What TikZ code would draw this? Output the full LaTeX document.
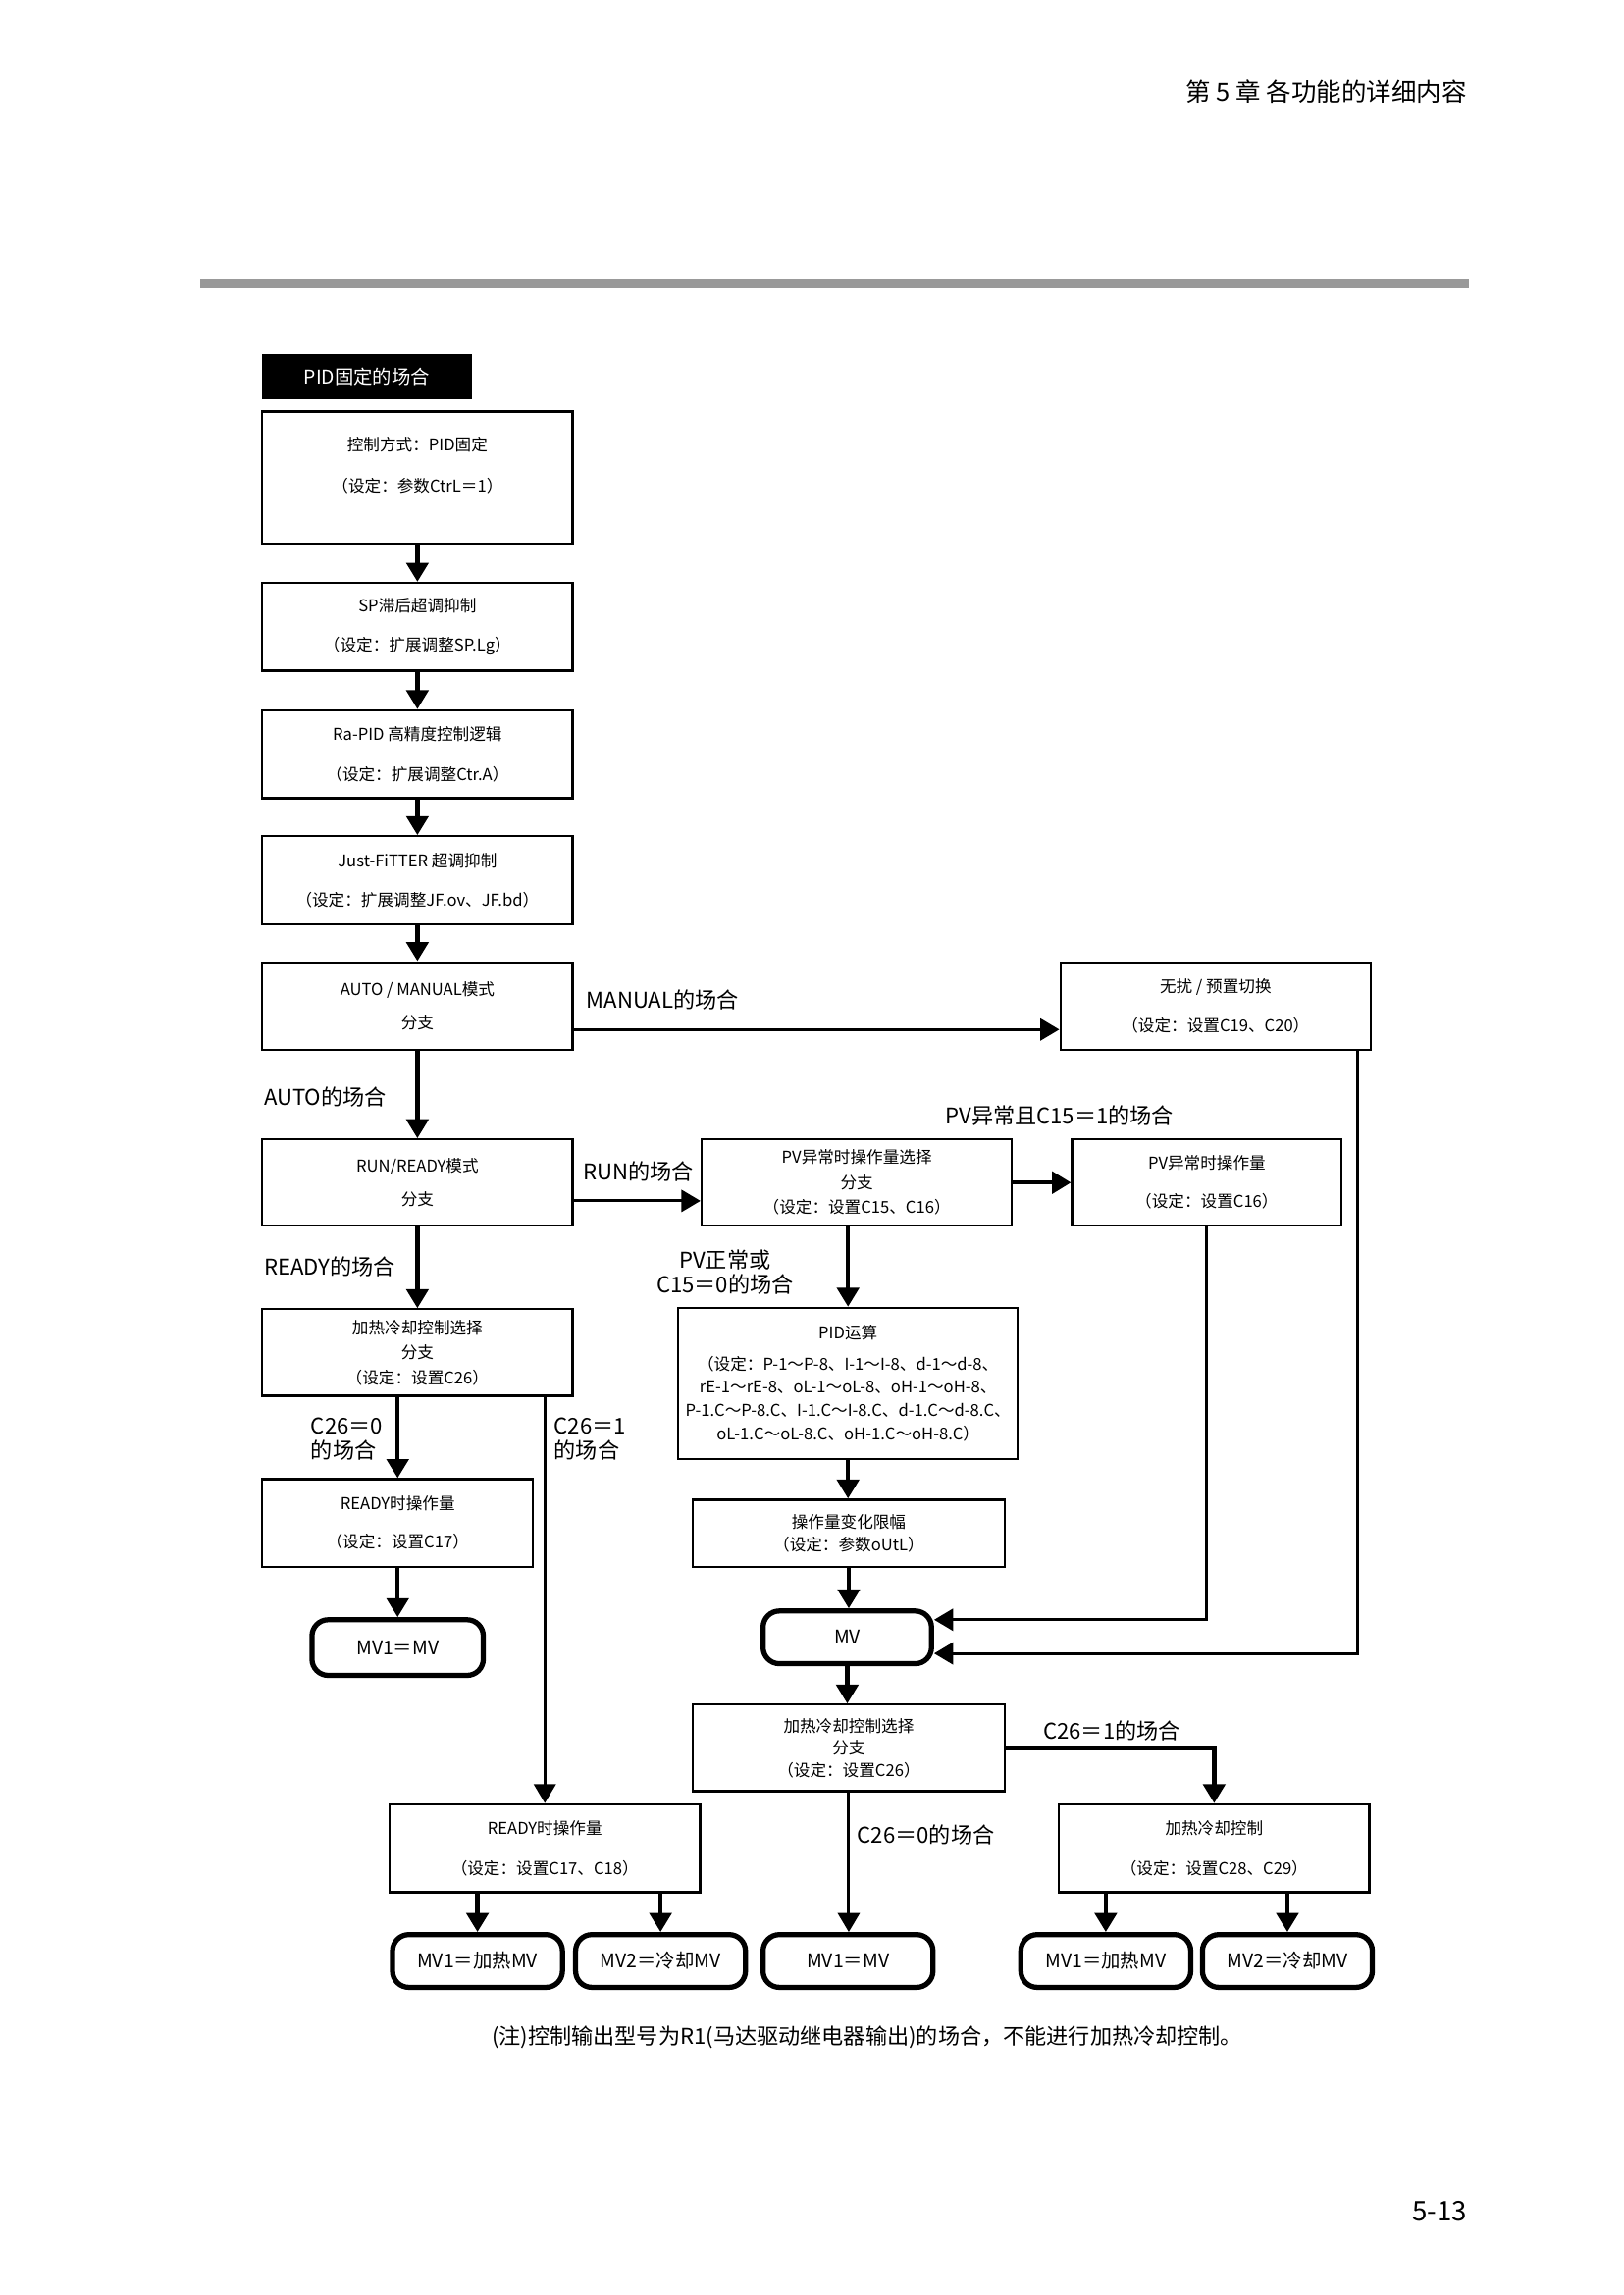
\documentclass[tikz,border=0pt]{standalone}
\usepackage{fontspec}
\setmainfont{Noto Sans CJK SC}
\usetikzlibrary{arrows.meta,positioning}
\newcommand{\pxu}{0.18949mm}
\tikzset{boxsize/.style 2 args={minimum width=#1*\pxu,minimum height=#2*\pxu}}

\begin{document}
\begin{tikzpicture}[x=\pxu,y=-\pxu,>={Triangle[length=7pt,width=8pt]},
                    line join=miter]
  \tikzstyle{box}=[draw=black,line width=0.8pt,align=center,inner sep=0pt,
                   font=\fontsize{6}{8.6}\selectfont]
  \tikzstyle{result}=[draw=black,line width=1.9pt,rounded corners=6pt,inner sep=0pt,
                      boxsize={116}{36},font=\fontsize{7}{8}\selectfont]
  \tikzstyle{cond}=[inner sep=0pt,font=\fontsize{8}{9.2}\selectfont]
  \tikzstyle{flow}=[->,line width=1.6pt]
  \tikzstyle{thin flow}=[->,line width=1.1pt]

  \useasboundingbox (0,0) rectangle (1108.2,1567.1);
  \node[anchor=east,font=\fontsize{9.2}{10}\selectfont] (chap) at (1008,63) {第 5 章 各功能的详细内容};
  \fill[black!40] (137,190) rectangle (1003,197);
  \node[fill=black,text=white,inner sep=0pt,boxsize={143}{31},
        font=\fontsize{7}{8}\selectfont] (title) at (250.5,257.5) {PID固定的场合};

  % main column
  \node[box,boxsize={212}{90}] (ctrl)  at (285,326)   {控制方式：PID固定\\[6.6pt]（设定：参数CtrL＝1）\\[1pt]\mbox{}};
  \node[box,boxsize={212}{60}] (splg)  at (285,428)   {SP滞后超调抑制\\[6pt]（设定：扩展调整SP.Lg）};
  \node[box,boxsize={212}{60}] (rapid) at (285,515)   {Ra-PID 高精度控制逻辑\\[6pt]（设定：扩展调整Ctr.A）};
  \node[box,boxsize={212}{60}] (jf)    at (285,601)   {Just-FiTTER 超调抑制\\[6pt]（设定：扩展调整JF.ov、JF.bd）};
  \node[box,boxsize={212}{60}] (am)    at (285,687)   {AUTO / MANUAL模式\\[3.9pt]分支};
  \node[box,boxsize={212}{60}] (bumpless) at (830,687) {无扰 / 预置切换\\[6pt]（设定：设置C19、C20）};
  \node[box,boxsize={212}{59}] (rr)    at (285,807.5) {RUN/READY模式\\[3.9pt]分支};
  \node[box,boxsize={212}{59}] (pvsel) at (585,807.5) {PV异常时操作量选择\\[0.6pt]分支\\[0.6pt]（设定：设置C15、C16）};
  \node[box,boxsize={184}{59}] (pvmv)  at (824,807.5) {PV异常时操作量\\[5.5pt]（设定：设置C16）};
  \node[box,boxsize={212}{59}] (hcsel) at (285,923.5) {加热冷却控制选择\\[0.6pt]分支\\[0.6pt]（设定：设置C26）};
  \node[box,boxsize={232}{103}] (pid)  at (579,944.5) {PID运算\\[2.8pt]（设定：P-1～P-8、I-1～I-8、d-1～d-8、\\rE-1～rE-8、oL-1～oL-8、oH-1～oH-8、\\P-1.C～P-8.C、I-1.C～I-8.C、d-1.C～d-8.C、\\oL-1.C～oL-8.C、oH-1.C～oH-8.C）};
  \node[box,boxsize={185}{60}] (rdy)   at (271.5,1040) {READY时操作量\\[5.5pt]（设定：设置C17）};
  \node[result,boxsize={117}{38}] (mvA) at (271.5,1125) {MV1＝MV};
  \node[box,boxsize={213}{46}] (lim)   at (579.5,1047) {操作量变化限幅\\（设定：参数oUtL）};
  \node[result,boxsize={115}{36}] (mv) at (578.5,1118) {MV};
  \node[box,boxsize={213}{59}] (hcsel2) at (579.5,1193.5) {加热冷却控制选择\\[-0.5pt]分支\\[-0.5pt]（设定：设置C26）};
  \node[box,boxsize={212}{60}] (rdy2)  at (372,1262)  {READY时操作量\\[6pt]（设定：设置C17、C18）};
  \node[box,boxsize={212}{60}] (hc)    at (829,1262)  {加热冷却控制\\[6pt]（设定：设置C28、C29）};
  \node[result] (heatA) at (326,1339) {MV1＝加热MV};
  \node[result] (coolA) at (451,1339) {MV2＝冷却MV};
  \node[result] (mvB)   at (579,1339) {MV1＝MV};
  \node[result] (heatB) at (755,1339) {MV1＝加热MV};
  \node[result] (coolB) at (879,1339) {MV2＝冷却MV};

  % branch labels
  \node[cond,anchor=west] (lmanual) at (400,683) {MANUAL的场合};
  \node[cond,anchor=west] (lauto)   at (180,749) {AUTO的场合};
  \node[cond,anchor=west] (lrun)    at (398,800) {RUN的场合};
  \node[cond,anchor=west] (lpverr)  at (645,762) {PV异常且C15＝1的场合};
  \node[cond,anchor=west] (lready)  at (180,865) {READY的场合};
  \node[cond,align=center] (lpvok)  at (495,868.5) {PV正常或\\C15＝0的场合};
  \node[cond,align=left,anchor=west] (lcz) at (212,982.5) {C26＝0\\的场合};
  \node[cond,align=left,anchor=west] (lco) at (378,982.5) {C26＝1\\的场合};
  \node[cond,anchor=west] (lcob) at (712,1182) {C26＝1的场合};
  \node[cond,anchor=west] (lczb) at (585,1253) {C26＝0的场合};

  \path (ctrl)  edge[flow] (splg)
        (splg)  edge[flow] (rapid)
        (rapid) edge[flow] (jf)
        (jf)    edge[flow] (am)
        (am)    edge[flow] (rr)
        (rr)    edge[flow] (hcsel)
        (pvsel) edge[flow] (pvmv)
        (rdy)   edge[flow] (mvA);
  \draw[thin flow] ([yshift=-16*\pxu]am.east) -- ([yshift=-16*\pxu]bumpless.west);
  \draw[thin flow] ([yshift=-12.5*\pxu]rr.east) -- ([yshift=-12.5*\pxu]pvsel.west);
  \draw[flow] (pvsel.south -| pid.north) -- (pid.north);
  \draw[flow] (hcsel.south -| rdy.north) -- (rdy.north);
  \draw[thin flow] (hcsel.south -| rdy2.north) -- (rdy2.north);
  \draw[flow] (pid.south) -- (pid.south |- lim.north);
  \draw[flow] (lim.south) -- (lim.south |- mv.north);
  \draw[thin flow] (pvmv.south) |- ([yshift=12*\pxu]mv.east);
  \draw[thin flow] ([xshift=-10*\pxu]bumpless.south east) |- ([yshift=-11*\pxu]mv.east);
  \draw[flow] (mv.south) -- (mv.south |- hcsel2.north);
  \draw[flow] (hcsel2.east) -| (hc.north);
  \draw[thin flow] (hcsel2.south) -- (hcsel2.south |- mvB.north);
  \draw[flow] (rdy2.south -| heatA.north) -- (heatA.north);
  \draw[flow] (rdy2.south -| coolA.north) -- (coolA.north);
  \draw[flow] (hc.south -| heatB.north) -- (heatB.north);
  \draw[flow] (hc.south -| coolB.north) -- (coolB.north);

  \node[font=\fontsize{8}{9}\selectfont] (note) at (592,1391) {(注)控制输出型号为R1(马达驱动继电器输出)的场合，不能进行加热冷却控制。};
  \node[anchor=east,font=\fontsize{10}{11}\selectfont] (page) at (1008,1510) {5-13};
\end{tikzpicture}
\end{document}
